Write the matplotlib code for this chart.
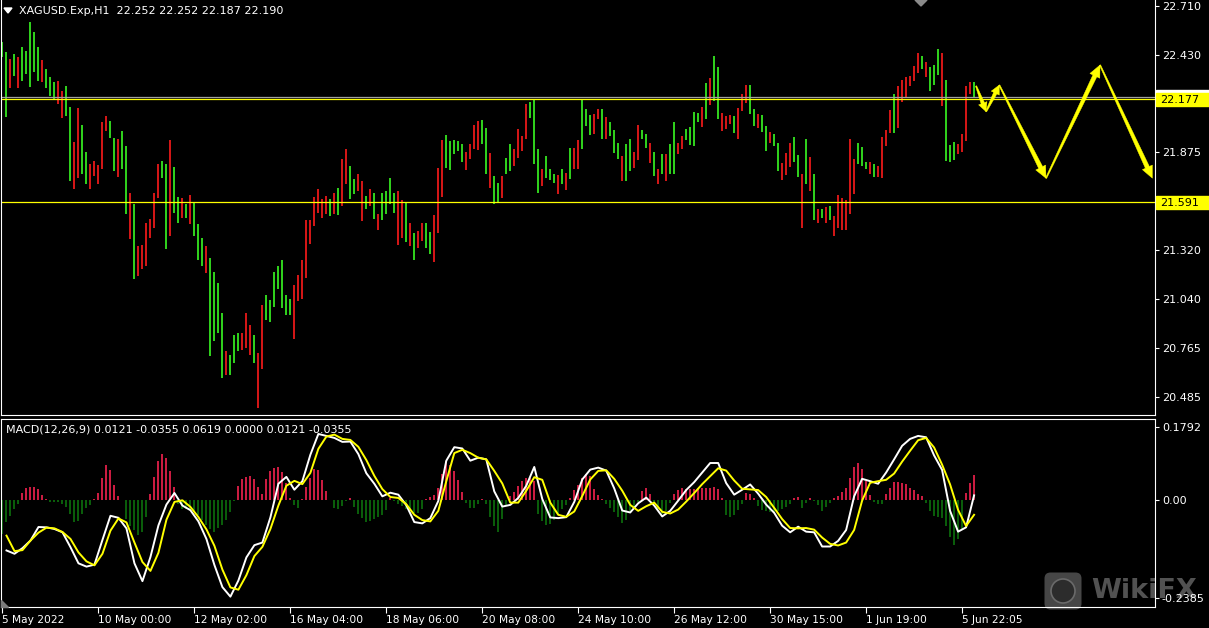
import matplotlib
matplotlib.use("Agg")
import matplotlib.pyplot as plt
from matplotlib.patches import Polygon, Rectangle, FancyBboxPatch, Circle
from matplotlib.transforms import IdentityTransform
import numpy as np

# ---------------- data (H1 bars grouped in pairs) ----------------
highs = [
    22.504, 22.444, 22.405, 22.434, 22.415, 22.472, 22.453, 22.618, 22.561, 22.472,
    22.400, 22.349, 22.305, 22.278, 22.282, 22.225, 22.253, 22.134, 21.934, 22.126,
    22.029, 21.879, 21.811, 21.826, 21.803, 22.048, 22.082, 22.054, 21.959, 21.950,
    21.997, 21.912, 21.642, 21.579, 21.345, 21.351, 21.473, 21.494, 21.646, 21.807,
    21.826, 21.807, 21.944, 21.792, 21.621, 21.613, 21.579, 21.632, 21.585, 21.465,
    21.389, 21.341, 21.275, 21.193, 21.132, 20.961, 20.743, 20.724, 20.834, 20.848,
    20.848, 20.961, 20.891, 20.838, 20.734, 21.009, 21.062, 21.038, 21.193, 21.231,
    21.265, 21.066, 21.043, 21.119, 21.180, 21.265, 21.490, 21.490, 21.621, 21.665,
    21.608, 21.627, 21.608, 21.646, 21.674, 21.836, 21.893, 21.797, 21.721, 21.750,
    21.712, 21.627, 21.665, 21.646, 21.522, 21.646, 21.655, 21.727, 21.646, 21.655,
    21.604, 21.588, 21.473, 21.418, 21.427, 21.473, 21.473, 21.423, 21.518, 21.788,
    21.944, 21.974, 21.940, 21.944, 21.940, 21.921, 21.879, 21.925, 22.031, 22.054,
    22.060, 22.016, 21.874, 21.741, 21.703, 21.741, 21.845, 21.921, 21.896, 22.010,
    21.968, 22.153, 22.162, 22.172, 21.896, 21.779, 21.855, 21.779, 21.750, 21.744,
    21.779, 21.756, 21.902, 21.902, 21.946, 22.181, 22.124, 22.088, 22.092, 22.121,
    22.121, 22.077, 22.048, 22.003, 21.927, 21.855, 21.925, 21.953, 21.877, 22.031,
    22.003, 21.982, 21.931, 21.877, 21.779, 21.864, 21.864, 21.921, 22.048, 21.931,
    21.968, 22.010, 22.020, 22.107, 22.101, 22.134, 22.267, 22.301, 22.425, 22.358,
    22.101, 22.082, 22.088, 22.082, 22.130, 22.206, 22.259, 22.259, 22.124, 22.092,
    22.088, 22.026, 21.991, 21.982, 21.931, 21.817, 21.874, 21.931, 21.963, 21.860,
    21.754, 21.953, 21.851, 21.754, 21.552, 21.551, 21.564, 21.570, 21.512, 21.632,
    21.613, 21.602, 21.953, 21.839, 21.927, 21.906, 21.822, 21.820, 21.807, 21.797,
    21.963, 22.001, 22.117, 22.206, 22.254, 22.288, 22.305, 22.311, 22.364, 22.438,
    22.425, 22.390, 22.362, 22.373, 22.466, 22.438, 22.288, 21.917, 21.934, 21.925,
    21.982, 22.254, 22.273, 22.273]

lows = [
    22.419, 22.077, 22.244, 22.311, 22.244, 22.282, 22.320, 22.248, 22.330, 22.282,
    22.273, 22.244, 22.197, 22.172, 22.149, 22.073, 22.083, 21.712, 21.665, 21.731,
    21.750, 21.693, 21.665, 21.741, 21.697, 21.782, 21.997, 21.959, 21.769, 21.737,
    21.779, 21.522, 21.380, 21.152, 21.171, 21.212, 21.228, 21.389, 21.446, 21.617,
    21.731, 21.323, 21.399, 21.528, 21.475, 21.503, 21.503, 21.465, 21.399, 21.265,
    21.228, 21.190, 20.715, 20.800, 20.848, 20.591, 20.610, 20.610, 20.677, 20.743,
    20.753, 20.762, 20.724, 20.677, 20.420, 20.642, 20.923, 20.910, 20.994, 21.100,
    20.990, 20.952, 20.952, 20.813, 21.028, 21.043, 21.161, 21.355, 21.456, 21.532,
    21.503, 21.522, 21.513, 21.522, 21.518, 21.570, 21.693, 21.611, 21.636, 21.655,
    21.484, 21.551, 21.570, 21.494, 21.433, 21.488, 21.522, 21.579, 21.528, 21.351,
    21.389, 21.364, 21.341, 21.265, 21.332, 21.370, 21.332, 21.298, 21.252, 21.418,
    21.623, 21.788, 21.775, 21.868, 21.883, 21.822, 21.775, 21.836, 21.893, 21.887,
    21.921, 21.750, 21.674, 21.579, 21.585, 21.617, 21.754, 21.769, 21.797, 21.845,
    21.883, 21.950, 22.073, 21.807, 21.646, 21.684, 21.731, 21.718, 21.699, 21.640,
    21.693, 21.661, 21.722, 21.779, 21.782, 21.896, 22.026, 21.972, 21.978, 22.064,
    21.950, 21.950, 21.968, 21.873, 21.836, 21.712, 21.712, 21.769, 21.788, 21.832,
    21.950, 21.902, 21.816, 21.741, 21.697, 21.750, 21.712, 21.750, 21.754, 21.868,
    21.896, 21.944, 21.917, 21.912, 22.048, 22.020, 22.064, 22.145, 22.168, 22.064,
    21.997, 22.010, 22.035, 21.987, 21.953, 22.111, 22.158, 22.096, 22.026, 22.016,
    21.993, 21.883, 21.931, 21.912, 21.769, 21.718, 21.746, 21.794, 21.822, 21.737,
    21.446, 21.693, 21.655, 21.490, 21.471, 21.499, 21.475, 21.490, 21.399, 21.446,
    21.431, 21.431, 21.522, 21.636, 21.807, 21.797, 21.779, 21.750, 21.737, 21.737,
    21.731, 21.912, 21.987, 21.984, 22.016, 22.164, 22.191, 22.254, 22.282, 22.324,
    22.348, 22.305, 22.225, 22.259, 22.314, 22.140, 21.826, 21.822, 21.832, 21.868,
    21.879, 21.940, 22.210, 22.183]

bar_dirs = ("GGRGRGGGGG" "RGGGRRGGRR" "GGRRRRRGGR" "GGRGRRRRRR" "GGRGGRGRGG" "GRGGGGRGGG" "RR"
            "RGRRGGGG" "GGGRRRRRRR" "RRGRGRRGGR" "RGRGRGGGGR" "RGRGRRGGRR" "RGGGGGRRRR" "GGRG"
            "GRGGRR" "RRGGGRGGGR" "GRGRRGGGRR" "GRGGGRGGRR" "GGRGRGRGGR" "RGGGGRGRGG" "RRRGRRR"
            "GGR" "GGRGGRRRGG" "RGRGRGRGRR" "RRRRGGGRGR" "RRRGRRRRRR" "GRGGGRGGGR" "RRRG")

macd_main = [
    -0.1230, -0.1311, -0.1173, -0.0987, -0.0655, -0.0663, -0.0704, -0.0785, -0.1149, -0.1545,
    -0.1626, -0.1578, -0.0971, -0.0380, -0.0429, -0.0688, -0.1545, -0.1982, -0.1391, -0.0615,
    -0.0105, 0.0178, -0.0129, -0.0243, -0.0518, -0.0947, -0.1586, -0.2128, -0.2362, -0.1966,
    -0.1400, -0.1100, -0.1036, -0.0421, 0.0405, 0.0574, 0.0259, 0.0469, 0.1116, 0.1626,
    0.1578, 0.1529, 0.1432, 0.1440, 0.1133, 0.0663, 0.0405, 0.0097, 0.0186, 0.0138,
    -0.0121, -0.0534, -0.0566, -0.0437, -0.0016, 0.0971, 0.1302, 0.1270, 0.0971, 0.1044,
    0.1003, 0.0218, -0.0154, -0.0113, 0.0057, 0.0356, 0.0817, 0.0032, -0.0421, -0.0437,
    -0.0413, -0.0040, 0.0510, 0.0752, 0.0801, 0.0728, 0.0291, -0.0251, -0.0299, -0.0073,
    0.0065, -0.0129, -0.0396, -0.0259, -0.0008, 0.0251, 0.0445, 0.0680, 0.0914, 0.0914,
    0.0421, 0.0138, 0.0259, 0.0388, 0.0162, -0.0105, -0.0307, -0.0623, -0.0785, -0.0647,
    -0.0769, -0.0785, -0.1133, -0.1133, -0.0995, -0.0728, 0.0097, 0.0526, 0.0469, 0.0405,
    0.0680, 0.1003, 0.1335, 0.1505, 0.1578, 0.1545, 0.1100, 0.0744, -0.0259, -0.0769,
    -0.0663, 0.0121]

macd_signal = [
    -0.0866, -0.1246, -0.1222, -0.0987, -0.0793, -0.0671, -0.0688, -0.0777, -0.0947, -0.1278,
    -0.1497, -0.1594, -0.1311, -0.0744, -0.0445, -0.0542, -0.1036, -0.1513, -0.1731, -0.1286,
    -0.0477, -0.0040, 0.0000, -0.0162, -0.0413, -0.0712, -0.1116, -0.1699, -0.2136, -0.2192,
    -0.1836, -0.1367, -0.1141, -0.0704, -0.0129, 0.0356, 0.0477, 0.0396, 0.0671, 0.1262,
    0.1561, 0.1610, 0.1505, 0.1480, 0.1311, 0.0987, 0.0599, 0.0275, 0.0081, 0.0057,
    -0.0097, -0.0356, -0.0485, -0.0518, -0.0259, 0.0469, 0.1157, 0.1238, 0.1157, 0.1044,
    0.1003, 0.0720, 0.0413, -0.0057, -0.0057, 0.0235, 0.0566, 0.0502, -0.0057, -0.0356,
    -0.0405, -0.0275, 0.0105, 0.0510, 0.0720, 0.0736, 0.0526, 0.0235, -0.0113, -0.0259,
    -0.0146, -0.0057, -0.0283, -0.0324, -0.0227, -0.0032, 0.0178, 0.0396, 0.0591, 0.0785,
    0.0728, 0.0485, 0.0283, 0.0267, 0.0251, 0.0081, -0.0186, -0.0461, -0.0680, -0.0688,
    -0.0680, -0.0720, -0.0914, -0.1068, -0.1108, -0.1036, -0.0728, -0.0008, 0.0429, 0.0469,
    0.0502, 0.0655, 0.0947, 0.1214, 0.1472, 0.1529, 0.1294, 0.0874, 0.0388, -0.0235,
    -0.0631, -0.0356]

macd_hist = [
    -0.0825, -0.0542, -0.0380, -0.0218, -0.0081, 0.0186, 0.0307, 0.0332, 0.0316, 0.0267,
    0.0138, 0.0040, -0.0032, -0.0040, -0.0049, -0.0097, -0.0162, -0.0340, -0.0542, -0.0510,
    -0.0324, -0.0194, -0.0113, 0.0040, 0.0178, 0.0542, 0.0866, 0.0736, 0.0364, 0.0097,
    0.0000, -0.0469, -0.0623, -0.0720, -0.0858, -0.0777, -0.0405, 0.0146, 0.0582, 0.0955,
    0.1125, 0.1027, 0.0712, 0.0324, -0.0081, -0.0202, -0.0202, -0.0235, -0.0275, -0.0372,
    -0.0485, -0.0607, -0.0704, -0.0769, -0.0671, -0.0599, -0.0485, -0.0299, -0.0016, 0.0356,
    0.0518, 0.0582, 0.0591, 0.0526, 0.0332, 0.0162, 0.0534, 0.0712, 0.0785, 0.0809,
    0.0696, 0.0429, 0.0065, -0.0113, -0.0194, 0.0024, 0.0324, 0.0550, 0.0769, 0.0752,
    0.0493, 0.0235, 0.0008, -0.0186, -0.0202, -0.0138, -0.0016, 0.0065, -0.0162, -0.0332,
    -0.0429, -0.0526, -0.0502, -0.0453, -0.0405, -0.0356, -0.0243, 0.0065, -0.0016, -0.0081,
    -0.0129, -0.0202, -0.0259, -0.0307, -0.0316, -0.0202, 0.0024, 0.0081, 0.0121, 0.0299,
    0.0647, 0.0971, 0.0874, 0.0720, 0.0493, 0.0202, -0.0057, -0.0178, -0.0194, -0.0097,
    0.0024, -0.0081, -0.0421, -0.0623, -0.0769, -0.0461, -0.0138, 0.0105, 0.0210, 0.0348,
    0.0469, 0.0542, 0.0550, 0.0469, -0.0340, -0.0518, -0.0615, -0.0582, -0.0485, -0.0332,
    -0.0210, -0.0113, 0.0065, 0.0251, 0.0380, 0.0550, 0.0655, 0.0591, 0.0283, 0.0138,
    0.0040, -0.0081, -0.0178, -0.0275, -0.0405, -0.0550, -0.0485, -0.0299, -0.0154, -0.0032,
    0.0235, 0.0299, 0.0146, -0.0057, -0.0210, -0.0340, -0.0259, -0.0057, 0.0162, 0.0259,
    0.0291, 0.0275, 0.0267, 0.0267, 0.0307, 0.0291, 0.0299, 0.0299, 0.0332, 0.0283,
    0.0065, -0.0356, -0.0413, -0.0356, -0.0235, -0.0081, 0.0170, 0.0146, 0.0057, -0.0146,
    -0.0227, -0.0267, -0.0291, -0.0291, -0.0259, -0.0210, -0.0162, -0.0081, 0.0065, 0.0081,
    -0.0178, -0.0057, 0.0065, -0.0016, -0.0113, -0.0251, -0.0162, -0.0057, 0.0057, 0.0097,
    0.0194, 0.0291, 0.0550, 0.0809, 0.0906, 0.0769, 0.0477, 0.0129, -0.0049, -0.0097,
    -0.0081, 0.0146, 0.0307, 0.0437, 0.0453, 0.0429, 0.0388, 0.0307, 0.0259, 0.0162,
    0.0097, -0.0057, -0.0259, -0.0396, -0.0421, -0.0445, -0.0623, -0.0890, -0.1084, -0.0947,
    -0.0704, 0.0186, 0.0429, 0.0631]

time_labels = ["5 May 2022", "10 May 00:00", "12 May 02:00", "16 May 04:00", "18 May 06:00",
               "20 May 08:00", "24 May 10:00", "26 May 12:00", "30 May 15:00", "1 Jun 19:00",
               "5 Jun 22:05"]
price_ticks = [22.710, 22.430, 21.875, 21.320, 21.040, 20.765, 20.485]
macd_ticks = [0.1792, 0.0, -0.2385]
macd_tick_labels = ["0.1792", "0.00", "-0.2385"]
levels = [22.177, 21.591]
bid_price = 22.190
title_text = "XAGUSD.Exp,H1  22.252 22.252 22.187 22.190"
macd_text = "MACD(12,26,9) 0.0121 -0.0355 0.0619 0.0000 0.0121 -0.0355"
arrow_t = [243.5, 246.0, 249.3, 261.0, 274.5, 287.6]
arrow_p = [22.253, 22.107, 22.258, 21.728, 22.372, 21.728]

# ---------------- figure ----------------
W, H = 1209, 628
fig = plt.figure(figsize=(W / 100, H / 100), dpi=100, facecolor="black")


def rect(x0, y0, x1, y1):
    return [x0 / W, 1 - y1 / H, (x1 - x0) / W, (y1 - y0) / H]


ax1 = fig.add_axes(rect(0.5, 0, 1155, 415))
ax2 = fig.add_axes(rect(0.5, 418.5, 1155, 607))
XL = (-0.5, 288.25)
for ax in (ax1, ax2):
    ax.set_facecolor("black")
    ax.set_xlim(*XL)
    for s in ax.spines.values():
        s.set_color("white")
        s.set_linewidth(0.8)
ax1.spines["top"].set_visible(False)
# MACD panel above the watermark so its tick label stays readable
ax2.patch.set_visible(False)
ax2.set_zorder(2)

# price bars
n = len(highs)
kk = np.arange(n)
bar_cols = ["#e01818" if d == "R" else "#33dd1e" for d in bar_dirs]
ax1.vlines(kk, lows, highs, colors=bar_cols, linewidth=1.35)
ax1.set_ylim(20.381, 22.742)
ax1.axhline(bid_price, color="#a0a0a0", lw=0.9)
for lv in levels:
    ax1.axhline(lv, color="#ffff00", lw=0.9)

ax1.yaxis.tick_right()
ax1.set_yticks(price_ticks)
ax1.set_yticklabels([f"{v:.3f}" for v in price_ticks])
ax1.tick_params(axis="y", colors="white", labelsize=8, length=3, width=0.8, pad=2)
ax1.set_xticks([])

# MACD panel
hist = np.array(macd_hist)
hcols = ["#d81e46" if v > 0 else "#0b640b" for v in hist]
ax2.vlines(kk, 0, hist, colors=hcols, linewidth=1.35)
kl = np.arange(1, n, 2)
ax2.plot(kl, macd_main, color="white", lw=1.4, solid_joinstyle="round")
ax2.plot(kl, macd_signal, color="#ffff00", lw=1.4, solid_joinstyle="round")
ax2.set_ylim(-0.2616, 0.2005)
ax2.yaxis.tick_right()
ax2.set_yticks(macd_ticks)
ax2.set_yticklabels(macd_tick_labels)
ax2.tick_params(axis="y", colors="white", labelsize=8, length=3, width=0.8, pad=2)
ax2.set_xticks(np.arange(len(time_labels)) * 24)
ax2.set_xticklabels(time_labels)
ax2.tick_params(axis="x", colors="white", labelsize=7.7, length=4, width=0.8, pad=2)
for lb in ax2.get_xticklabels():
    lb.set_ha("left")

# texts
fig.text(19 / W, 1 - 11 / H, title_text, color="white", fontsize=8, va="center", ha="left")
fig.text(6 / W, 1 - 430 / H, macd_text, color="white", fontsize=8, va="center", ha="left",
         zorder=5)

ID = IdentityTransform()


def P(x, y):
    return (x, H - y)


fig.add_artist(Polygon([P(4, 8), P(12, 8), P(8, 13)], closed=True, color="white", transform=ID))
fig.add_artist(Polygon([P(915, 0), P(927, 0), P(921, 6)], closed=True, color="#8a8a8a", transform=ID))
fig.add_artist(Polygon([P(1, 600), P(1, 607), P(8, 607)], closed=True, color="#7a7a7a",
                       transform=ID, zorder=5))

# price label boxes
fig.add_artist(Rectangle(P(1156, 104), 53, 14, color="white", transform=ID))
for lv in levels:
    yy = (22.742 - lv) / (22.742 - 20.381) * 415
    fig.add_artist(Rectangle(P(1156, yy + 6.8), 53, 13, color="#ffff00", transform=ID))
    fig.text(1160 / W, 1 - (yy + 0.5) / H, f"{lv:.3f}", color="black", fontsize=8,
             va="center", ha="left")

# arrows
fig.canvas.draw()
pts = ax1.transData.transform(np.column_stack([arrow_t, arrow_p]))
for i in range(len(pts) - 1):
    p0, p1 = pts[i], pts[i + 1]
    d = p1 - p0
    L = np.hypot(*d)
    u = d / L
    nv = np.array([-u[1], u[0]])
    small = L < 45
    Hh = 9 if small else 12
    hw = 4.5 if small else 5.5
    t0, t1 = 0.6, (1.8 if small else 2.2)
    b = p1 - u * Hh
    poly = [p0 + nv * t0, b + nv * t1, b + nv * hw, p1, b - nv * hw, b - nv * t1, p0 - nv * t0]
    fig.add_artist(Polygon(poly, closed=True, facecolor="#ffff00", edgecolor="#ffff00",
                           lw=0.3, transform=ID))

# watermark (below the MACD panel artists)
fig.add_artist(FancyBboxPatch(P(1046, 608), 34, 34, boxstyle="round,pad=1.5,rounding_size=6",
                              facecolor="#4e4e4e", edgecolor="none", alpha=0.9, transform=ID,
                              zorder=1))
fig.add_artist(Circle(P(1063, 591), 12, facecolor="#2c2c2c", edgecolor="#6a6a6a", lw=1.2,
                      transform=ID, zorder=1))
fig.text(1091 / W, 1 - 591 / H, "WikiFX", color="#575757", fontsize=19.5, fontweight="bold",
         va="center", ha="left", alpha=0.95, zorder=1)

fig.savefig("out.png", dpi=100, facecolor="black")
